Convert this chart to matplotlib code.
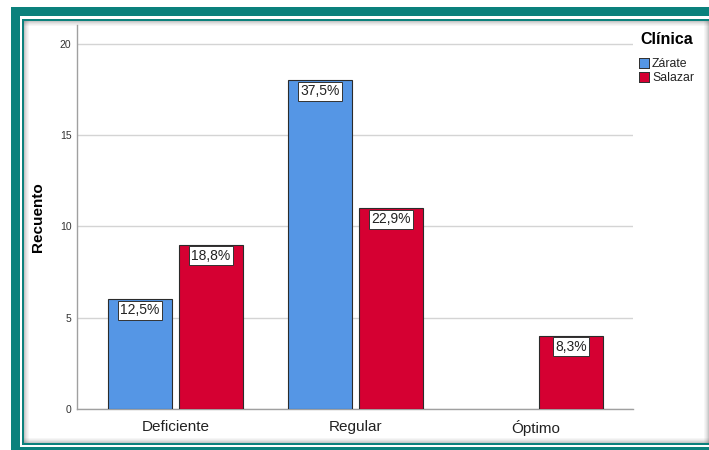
import numpy as np
import matplotlib.pyplot as plt
from matplotlib.patches import Rectangle

plt.rcParams['font.family'] = ['Liberation Sans', 'DejaVu Sans']

categorias = ['Deficiente', 'Regular', 'Óptimo']
clinicas = ['Zárate', 'Salazar']
zarate = [6, 18, 0]
salazar = [9, 11, 4]
colores = ['#5596E5', '#D50032']

W, H = 709, 450
fig = plt.figure(figsize=(W / 100, H / 100), dpi=100)


def caja(x0, y0, x1, y1, color, z=0, alpha=1.0):
    # rectangulo en pixeles (origen arriba a la izquierda)
    fig.add_artist(Rectangle((x0 / W, 1 - y1 / H), (x1 - x0) / W, (y1 - y0) / H,
                             transform=fig.transFigure, facecolor=color,
                             edgecolor='none', alpha=alpha, zorder=z))


# marco verde azulado
teal = '#0B817C'
caja(11, 7, 720, 460, teal, z=-10)
caja(20, 16, 720, 447, 'white', z=-9)
caja(22, 19, 720, 445, teal, z=-8)
caja(24, 21, 720, 443, 'white', z=-7)
# sombra interior
for i, a in enumerate([0.35, 0.25, 0.17, 0.1, 0.05]):
    caja(24 + i, 21, 25 + i, 443, '#606060', z=-6, alpha=a)
    caja(24, 21 + i, 720, 22 + i, '#606060', z=-6, alpha=a)
    caja(24, 442 - i, 720, 443 - i, '#606060', z=-6, alpha=a)
    caja(708 - i, 21, 709 - i, 443, '#606060', z=-6, alpha=a)

ax = fig.add_axes([77 / W, 1 - 409 / H, (633 - 77) / W, (409 - 25) / H])
ax.patch.set_alpha(0)

x = np.arange(len(categorias))
ancho = 0.356
desp = 0.197
total = sum(zarate) + sum(salazar)

for serie, vals, col, d in [(clinicas[0], zarate, colores[0], -desp),
                            (clinicas[1], salazar, colores[1], desp)]:
    bars = ax.bar(x + d, vals, width=ancho, color=col, edgecolor='#2b2b2b',
                  linewidth=0.8, label=serie, zorder=3)
    for b, v in zip(bars, vals):
        if v == 0:
            b.set_visible(False)
            continue
        txt = f'{v / total * 100:.1f}%'.replace('.', ',')
        ax.annotate(txt, (b.get_x() + b.get_width() / 2, v),
                    xytext=(0, -11), textcoords='offset pixels',
                    ha='center', va='center', fontsize=10, color='#222222',
                    bbox=dict(boxstyle='square,pad=0.18', fc='white',
                              ec='#333333', lw=0.7), zorder=5)

ax.set_xlim(-0.547, 2.542)
ax.set_ylim(0, 21.04)
ax.set_yticks([0, 5, 10, 15, 20])
ax.set_xticks(x)
ax.set_xticklabels(categorias, fontsize=11, color='#222222')
ax.tick_params(axis='y', labelsize=7.5, colors='#333333', length=0, pad=4)
ax.tick_params(axis='x', length=0, pad=8)
ax.yaxis.grid(True, color='#d4d4d4', linewidth=1, zorder=0)
ax.set_axisbelow(True)
for s in ['top', 'right']:
    ax.spines[s].set_visible(False)
for s in ['left', 'bottom']:
    ax.spines[s].set_color('#a0a0a0')
    ax.spines[s].set_linewidth(1)
ax.set_ylabel('Recuento', fontsize=11, fontweight='bold')
ax.yaxis.set_label_coords(-0.057, 0.5)

# leyenda
fig.text(640 / W, 1 - 40 / H, 'Clínica', fontsize=11.5, fontweight='bold',
         ha='left', va='center')
for i, (nom, col) in enumerate(zip(clinicas, colores)):
    y0 = 58 + i * 14
    caja(639, y0, 650, y0 + 11, '#333333', z=5)
    caja(640, y0 + 1, 649, y0 + 10, col, z=6)
    fig.text(652 / W, 1 - (y0 + 6) / H, nom, fontsize=8.8, ha='left',
             va='center', color='#222222')

fig.savefig('out.png', dpi=100)
